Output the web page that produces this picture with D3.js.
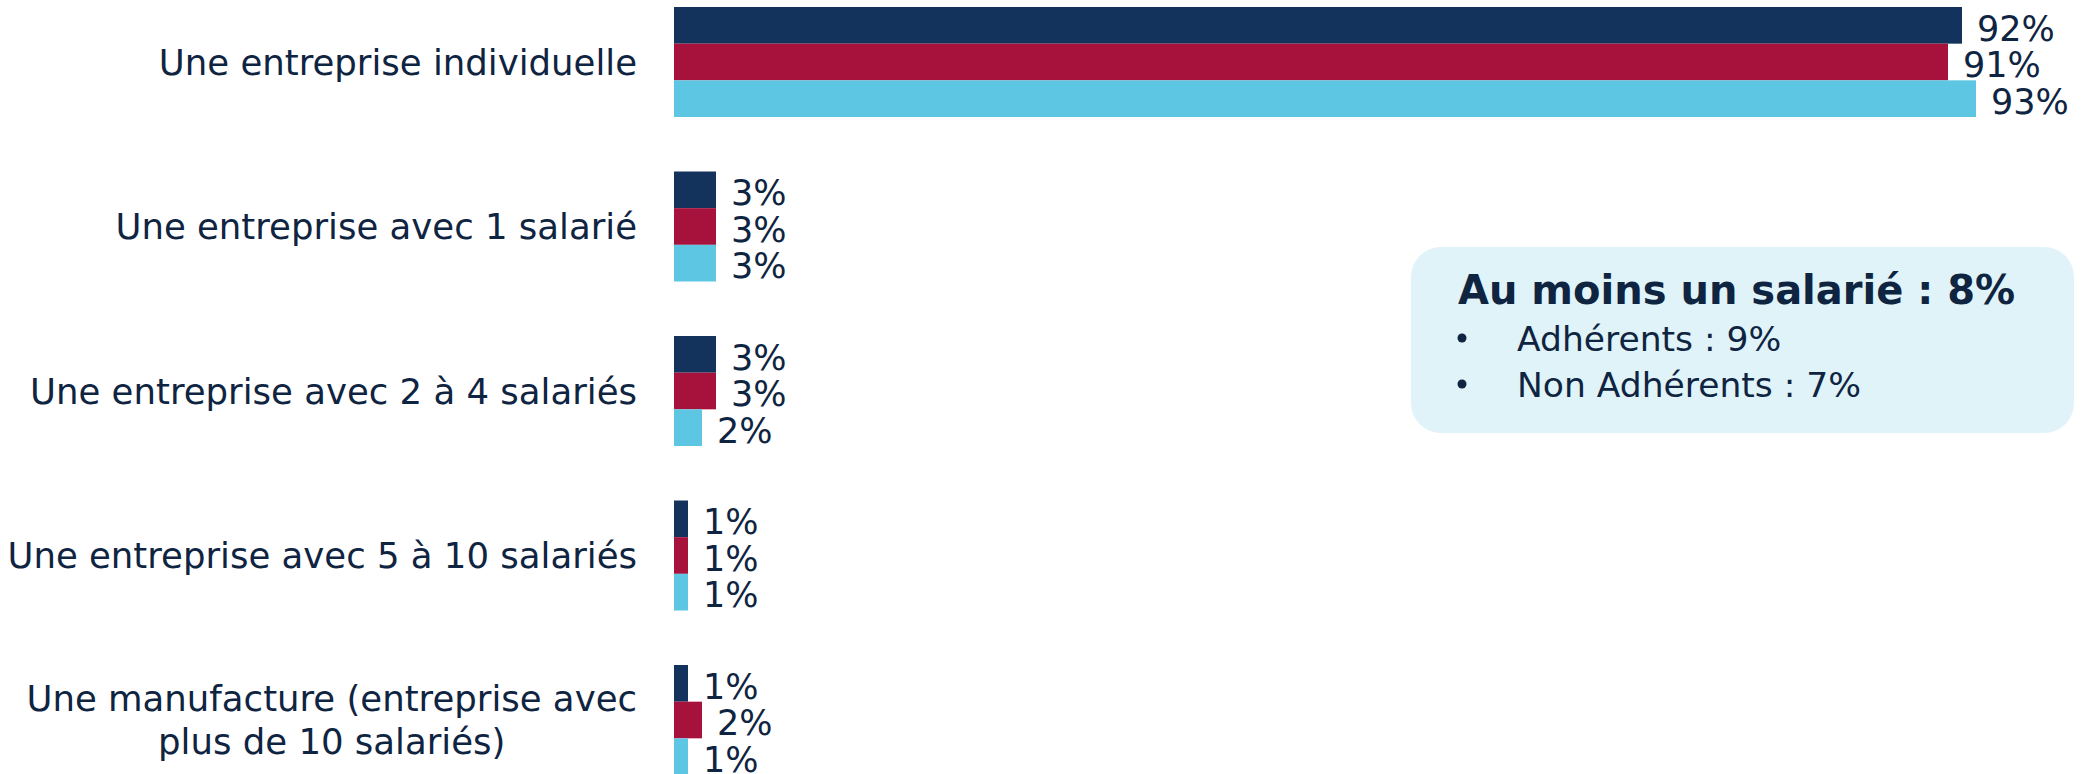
<!DOCTYPE html>
<html>
<head>
<meta charset="utf-8">
<script src="https://cdn.jsdelivr.net/npm/d3@7"></script>
<style>
    html, body { margin: 0; padding: 0; background: #ffffff; }
    #chart { width: 2083px; height: 774px; overflow: hidden; }
</style>
</head>
<body>
<div id="chart"></div>
<script>
var categories = [
    ["Une entreprise individuelle"],
    ["Une entreprise avec 1 salarié"],
    ["Une entreprise avec 2 à 4 salariés"],
    ["Une entreprise avec 5 à 10 salariés"],
    ["Une manufacture (entreprise avec", "plus de 10 salariés)"]
];
var seriesNames = ["Ensemble", "Adhérents", "Non Adhérents"];
var ensemble = [92, 3, 3, 1, 1];
var adherents = [91, 3, 3, 1, 2];
var nonAdherents = [93, 3, 2, 1, 1];
var boxTitle = "Au moins un salarié : 8%";
var boxLines = ["Adhérents : 9%", "Non Adhérents : 7%"];

var seriesValues = [ensemble, adherents, nonAdherents];
var seriesColours = ["#13335c", "#a7123c", "#5cc6e3"];
var textColour = "#0f2441";
var fontFamily = "'DejaVu Sans', sans-serif";

BarChart = function(_parentElement){
    this.parentElement = _parentElement;
    this.totalWidth = 2083;
    this.totalHeight = 774;
    this.labelSize = 35.5;
    this.valueSize = 35;
    this.initVis();
};

BarChart.prototype.initVis = function(){
    vis = this;

    vis.svg = d3.select("#" + vis.parentElement).append("svg")
        .attr("width", vis.totalWidth)
        .attr("height", vis.totalHeight);

    vis.keys = categories.map(function(d){ return d.join(" "); });

    // Scales
    vis.x = d3.scaleLinear()
        .domain([0, 100])
        .range([674, 2074]);

    vis.y = d3.scaleBand()
        .domain(vis.keys)
        .range([7, 775])
        .paddingInner(0.3313)
        .paddingOuter(0);

    vis.ySeries = d3.scaleBand()
        .domain(seriesNames)
        .range([0, vis.y.bandwidth()]);

    vis.rows = [];
    vis.keys.forEach(function(k, i){
        seriesNames.forEach(function(s, j){
            vis.rows.push({ key: k, series: s, value: seriesValues[j][i], colour: seriesColours[j] });
        });
    });

    vis.addBars();
    vis.addLabels();
    vis.addBox();
};

BarChart.prototype.addBars = function(){
    vis = this;

    vis.svg.append("g").attr("class", "bars")
        .selectAll("rect")
        .data(vis.rows)
        .enter().append("rect")
        .attr("x", vis.x(0))
        .attr("y", function(d){ return vis.y(d.key) + vis.ySeries(d.series); })
        .attr("width", function(d){ return vis.x(d.value) - vis.x(0); })
        .attr("height", vis.ySeries.bandwidth())
        .attr("fill", function(d){ return d.colour; });

    vis.svg.append("g").attr("class", "values")
        .selectAll("text")
        .data(vis.rows)
        .enter().append("text")
        .attr("x", function(d){ return vis.x(d.value) + 15; })
        .attr("y", function(d){
            return vis.y(d.key) + vis.ySeries(d.series) + vis.ySeries.bandwidth() / 2 + 2.5 + 0.365 * vis.valueSize;
        })
        .attr("font-family", fontFamily)
        .attr("font-size", vis.valueSize + "px")
        .attr("fill", textColour)
        .text(function(d){ return d.value + "%"; });
};

BarChart.prototype.addLabels = function(){
    vis = this;
    var lineGap = 43;

    var labels = vis.svg.append("g").attr("class", "labels")
        .selectAll("g")
        .data(categories)
        .enter().append("g");

    labels.each(function(lines, i){
        var g = d3.select(this);
        var centre = vis.y(vis.keys[i]) + vis.y.bandwidth() / 2;
        var text = g.append("text")
            .attr("font-family", fontFamily)
            .attr("font-size", vis.labelSize + "px")
            .attr("fill", textColour)
            .attr("text-anchor", "end");
        lines.forEach(function(line, j){
            var baseline = centre + (j - (lines.length - 1) / 2) * lineGap + 0.365 * vis.labelSize;
            text.append("tspan")
                .attr("x", 637)
                .attr("y", baseline)
                .text(line);
        });
        // multi-line labels are centred inside their right-aligned block
        if (lines.length > 1) {
            var widths = [];
            text.selectAll("tspan").each(function(){ widths.push(this.getComputedTextLength()); });
            var maxW = d3.max(widths);
            text.attr("text-anchor", "middle");
            text.selectAll("tspan").attr("x", 637 - maxW / 2);
        }
    });
};

BarChart.prototype.addBox = function(){
    vis = this;

    var box = vis.svg.append("g").attr("class", "summary");

    box.append("rect")
        .attr("x", 1411)
        .attr("y", 247)
        .attr("width", 663)
        .attr("height", 186)
        .attr("rx", 30)
        .attr("ry", 30)
        .attr("fill", "#dff3f8");

    box.append("text")
        .attr("x", 1458)
        .attr("y", 304)
        .attr("font-family", fontFamily)
        .attr("font-weight", "bold")
        .attr("font-size", "40px")
        .attr("fill", textColour)
        .text(boxTitle);

    boxLines.forEach(function(line, i){
        box.append("circle")
            .attr("cx", 1462)
            .attr("cy", 338 + i * 46)
            .attr("r", 4.5)
            .attr("fill", textColour);

        box.append("text")
            .attr("x", 1517)
            .attr("y", 351 + i * 46)
            .attr("font-family", fontFamily)
            .attr("font-size", "34.5px")
            .attr("fill", textColour)
            .text(line);
    });
};

new BarChart("chart");
</script>
</body>
</html>
